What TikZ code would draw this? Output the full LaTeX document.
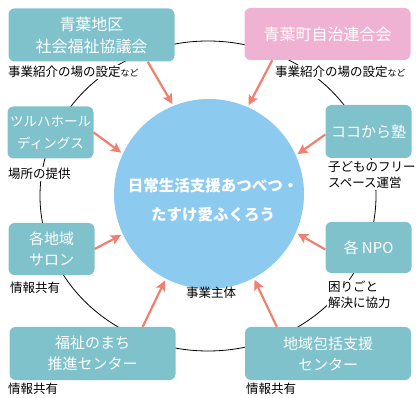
\documentclass[tikz,border=0pt]{standalone}
\usepackage{fontspec}
\setmainfont{Noto Sans CJK JP}
\usetikzlibrary{arrows.meta,calc}
\definecolor{tealbox}{RGB}{127,194,203}
\definecolor{pinkbox}{RGB}{240,178,210}
\definecolor{circc}{RGB}{140,202,240}
\definecolor{arrowc}{RGB}{240,128,112}
\begin{document}
\begin{tikzpicture}[x=1pt,y=-1pt,
  box/.style={fill=tealbox, rounded corners=6pt, text=white, align=center, inner sep=0pt, font=\fontsize{15}{21}\selectfont},
  bigbox/.style={box, minimum width=166pt, minimum height=53pt},
  smallbox/.style={box, minimum width=86pt, minimum height=52pt},
  lbl/.style={fill=white, inner sep=1pt, anchor=west, align=left, text=black, font=\fontsize{12.5}{16}\selectfont},
  arr/.style={draw=arrowc, line width=2.2pt, -{Stealth[length=10pt,width=10pt,inset=2pt]}, shorten >=2pt},
  ring/.style={draw=black, line width=0.8pt}]
\useasboundingbox (0,0) rectangle (418,398);
\draw[ring] (208,196) ellipse [x radius=168pt, y radius=155pt];
\node[circle, fill=circc, minimum size=190pt, inner sep=0pt] (circ) at (209,194) {};
\node[text=white, align=center, font=\fontsize{15.5}{29}\selectfont\bfseries] (ctext) at (213,200) {日常生活支援あつべつ・\\たすけ愛ふくろう};
\node[font=\fontsize{12.5}{16}\selectfont] (main) at (211,293) {事業主体};
% boxes
\node[bigbox, font=\fontsize{16}{22}\selectfont] (b1) at (91.5,35) {青葉地区\\社会福祉協議会};
\node[bigbox, fill=pinkbox, font=\fontsize{16}{22}\selectfont, minimum height=52pt] (b2) at (327.5,34) {青葉町自治連合会};
\node[smallbox, font=\fontsize{13.5}{22}\selectfont] (b3) at (50.5,132.5) {ツルハホール\\ディングス};
\node[smallbox, minimum height=53pt] (b4) at (368.5,131.5) {ココから塾};
\node[smallbox] (b5) at (51.5,249) {各地域\\サロン};
\node[smallbox, minimum height=51pt] (b6) at (368.5,247.5) {各 NPO};
\node[bigbox] (b7) at (92.5,353.5) {福祉のまち\\推進センター};
\node[bigbox] (b8) at (328,353.5) {地域包括支援\\センター};
% labels
\node[lbl] (l1) at (7,72) {事業紹介の場の設定{\fontsize{9}{9}\selectfont など}};
\node[lbl] (l2) at (274,72) {事業紹介の場の設定{\fontsize{9}{9}\selectfont など}};
\node[lbl] (l3) at (7,174) {場所の提供};
\node[lbl] (l4) at (327,175) {子どものフリー\\スペース運営};
\node[lbl] (l5) at (9,288) {情報共有};
\node[lbl] (l6) at (327,294.5) {困りごと\\解決に協力};
\node[lbl] (l7) at (7,389) {情報共有};
\node[lbl] (l8) at (245,389) {情報共有};
% arrows
\draw[arr] ([xshift=-27pt]b1.south east) -- (circ.112);
\draw[arr] ([xshift=28pt]b2.south west) -- (circ.66);
\draw[arr] (b3.east) -- (circ.155);
\draw[arr] ([yshift=-3pt]b4.west) -- (circ.24);
\draw[arr] (b5.east) -- (circ.205);
\draw[arr] ([yshift=-2pt]b6.west) -- (circ.-24);
\draw[arr] ([xshift=-33pt]b7.north east) -- (circ.243);
\draw[arr] ([xshift=32pt]b8.north west) -- (circ.298);
\end{tikzpicture}
\end{document}
